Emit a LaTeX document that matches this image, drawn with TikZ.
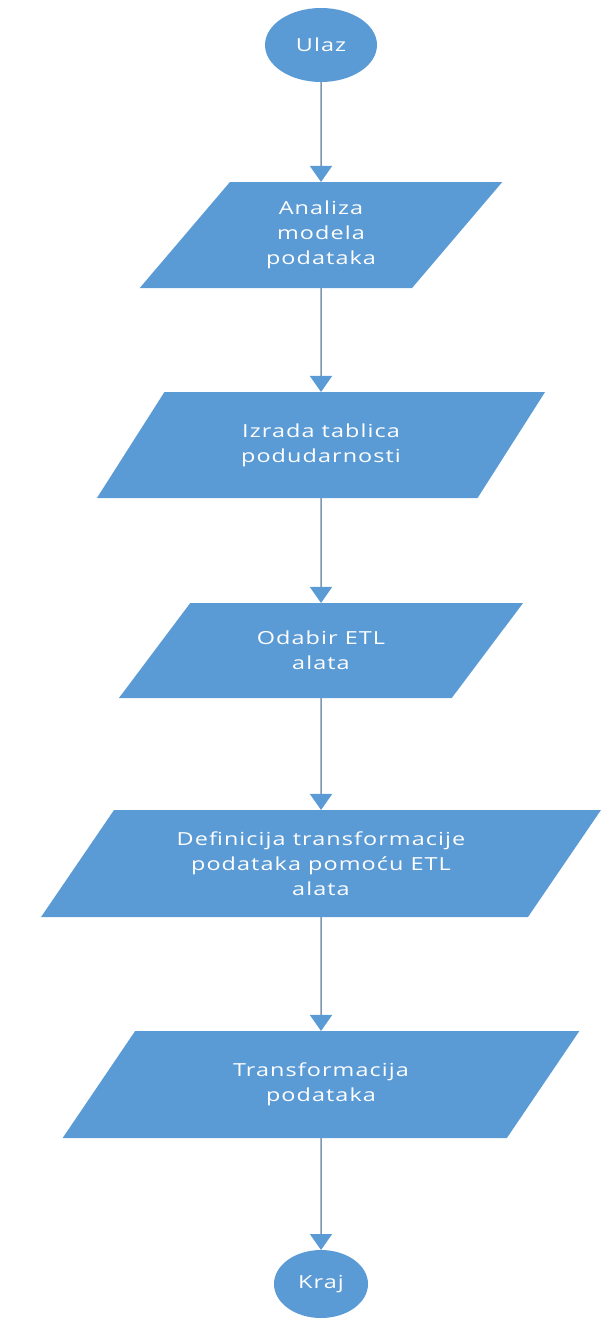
\documentclass[tikz,border=0pt]{standalone}
\usepackage{fontspec}
\newfontfamily\boxfont[FakeStretch=1.3,LetterSpace=6]{Open Sans}
\usetikzlibrary{shapes.geometric,arrows.meta}
\definecolor{boxblue}{HTML}{5B9BD5}
\definecolor{linegray}{HTML}{7F95B0}
\tikzset{
  flowbox/.style={trapezium, trapezium left angle=#1, trapezium right angle={180-#1},
    trapezium stretches=true, fill=boxblue, draw=none, inner sep=0pt, outer sep=0pt,
    text=white, align=center, font=\boxfont\fontsize{18}{25}\selectfont},
  endpoint/.style={ellipse, fill=boxblue, draw=none, inner sep=0pt, outer sep=0pt,
    text=white, font=\boxfont\fontsize{18}{25}\selectfont},
  flowarrow/.style={draw=linegray, line width=1.5pt,
    -{Triangle[width=22pt,length=16pt,color=boxblue]}}
}
\begin{document}
\begin{tikzpicture}[x=1pt,y=-1pt]
\useasboundingbox (0,0) rectangle (608,1319);
\node[endpoint, minimum width=112pt, minimum height=74pt] (start) at (321,45) {Ulaz};
\node[flowbox=51.3, minimum width=363pt, minimum height=106pt] (b1) at (321,235) {Analiza\\modela\\podataka};
\node[flowbox=51.3, minimum width=449pt, minimum height=106pt] (b2) at (321,445) {Izrada tablica\\podudarnosti};
\node[flowbox=48, minimum width=405pt, minimum height=95pt] (b3) at (321,650.5) {Odabir ETL\\alata};
\node[flowbox=51.5, minimum width=563pt, minimum height=107pt] (b4) at (321,863.5) {Definicija transformacije\\podataka pomoću ETL\\alata};
\node[flowbox=51.5, minimum width=517pt, minimum height=107pt] (b5) at (321,1084.5) {Transformacija\\podataka};
\node[endpoint, minimum width=94pt, minimum height=68pt] (end) at (321,1284) {Kraj};
\draw[flowarrow] (start.south) -- (b1.north);
\draw[flowarrow] (b1.south) -- (b2.north);
\draw[flowarrow] (b2.south) -- (b3.north);
\draw[flowarrow] (b3.south) -- (b4.north);
\draw[flowarrow] (b4.south) -- (b5.north);
\draw[flowarrow] (b5.south) -- (end.north);
\end{tikzpicture}
\end{document}
